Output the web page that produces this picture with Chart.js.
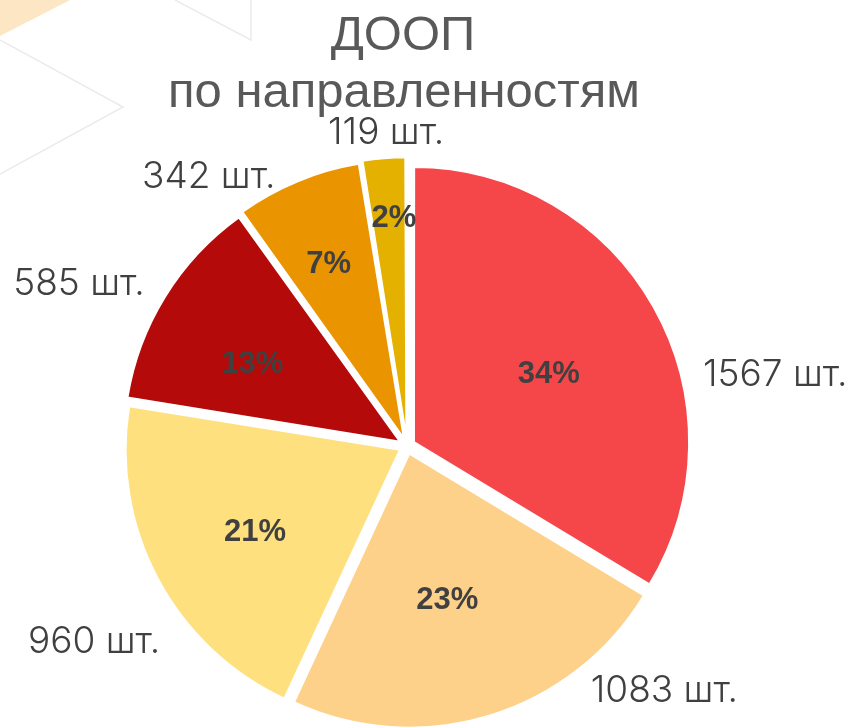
<!DOCTYPE html>
<html>
<head>
<meta charset="utf-8">
<script src="https://cdn.jsdelivr.net/npm/chart.js@4"></script>
<style>
html,body{margin:0;padding:0;background:#fff;}
#wrap{position:relative;width:856px;height:728px;}
</style>
</head>
<body>
<div id="wrap"><canvas id="c" width="856" height="728"></canvas></div>
<script>
// ---- data ----
const titleLines = ['ДООП', 'по направленностям'];
const categories = ['Направленность 1', 'Направленность 2', 'Направленность 3', 'Направленность 4', 'Направленность 5', 'Направленность 6'];
const counts = [1567, 1083, 960, 585, 342, 119];
const countLabels = ['1567 шт.', '1083 шт.', '960 шт.', '585 шт.', '342 шт.', '119 шт.'];
const percentLabels = ['34%', '23%', '21%', '13%', '7%', '2%'];
const sliceColors = ['#F5474A', '#FDD189', '#FEE07F', '#B40A0A', '#EA9500', '#E5B100'];

// label placement tweaks (Excel-like best fit), relative to each slice's mid angle
const outsidePlacement = {
  angleShift: [18.5, -29.5, -4.0, -5.4, -14.0, 0.8], // degrees
  distance: [375, 355, 369, 366, 334, 314]
};
const insidePlacement = {
  angleShift: [2.5, 2.4, -1.8, -3.8, -0.9, 1.3],
  distance: [159, 160, 175, 175, 198, 228]
};

const decoPlugin = {
  id: 'deco',
  beforeDraw(chart) {
    const ctx = chart.ctx;
    ctx.save();
    ctx.fillStyle = '#FDE6C3';
    ctx.beginPath();
    ctx.moveTo(0, 0); ctx.lineTo(70, 0); ctx.lineTo(0, 36); ctx.closePath();
    ctx.fill();
    ctx.strokeStyle = '#EBEBEB';
    ctx.lineWidth = 1.5;
    ctx.beginPath();
    ctx.moveTo(0, 40); ctx.lineTo(123, 107); ctx.lineTo(0, 174);
    ctx.stroke();
    ctx.beginPath();
    ctx.moveTo(175, 0); ctx.lineTo(251, 40); ctx.lineTo(251, 0);
    ctx.stroke();
    ctx.restore();
  }
};

const labelPlugin = {
  id: 'pieLabels',
  afterDraw(chart) {
    const ctx = chart.ctx;
    const meta = chart.getDatasetMeta(0);
    ctx.save();
    // title
    ctx.fillStyle = '#595959';
    ctx.textAlign = 'center';
    ctx.textBaseline = 'middle';
    ctx.font = '49px "Liberation Sans", Arial, sans-serif';
    ctx.fillText(titleLines[0], 403, 36);
    ctx.font = '49px "Liberation Sans", Arial, sans-serif';
    ctx.fillText(titleLines[1], 404, 93);

    meta.data.forEach((arc, i) => {
      const p = arc.getProps(['x', 'y', 'startAngle', 'endAngle'], true);
      const mid = (p.startAngle + p.endAngle) / 2;
      // inside percent
      const ai = mid + insidePlacement.angleShift[i] * Math.PI / 180;
      const di = insidePlacement.distance[i];
      ctx.font = 'bold 31px "Liberation Sans", Arial, sans-serif';
      ctx.fillStyle = '#404040';
      ctx.fillText(percentLabels[i], p.x + di * Math.cos(ai), p.y + di * Math.sin(ai));
      // outside count
      const ao = mid + outsidePlacement.angleShift[i] * Math.PI / 180;
      const d = outsidePlacement.distance[i];
      ctx.font = '300 37px Inter, "Open Sans", sans-serif';
      ctx.fillStyle = '#404040';
      ctx.fillText(countLabels[i], p.x + d * Math.cos(ao), p.y + d * Math.sin(ao));
    });
    ctx.restore();
  }
};

new Chart(document.getElementById('c'), {
  type: 'pie',
  data: {
    labels: categories,
    datasets: [{
      data: counts,
      backgroundColor: sliceColors,
      borderColor: '#FFFFFF',
      borderWidth: 2,
      offset: 32
    }]
  },
  options: {
    responsive: false,
    animation: false,
    radius: 274,
    layout: { padding: { left: 0, right: 42, top: 164, bottom: 0 } },
    plugins: {
      legend: { display: false },
      title: { display: false },
      tooltip: { enabled: false }
    }
  },
  plugins: [decoPlugin, labelPlugin]
});
</script>
</body>
</html>
